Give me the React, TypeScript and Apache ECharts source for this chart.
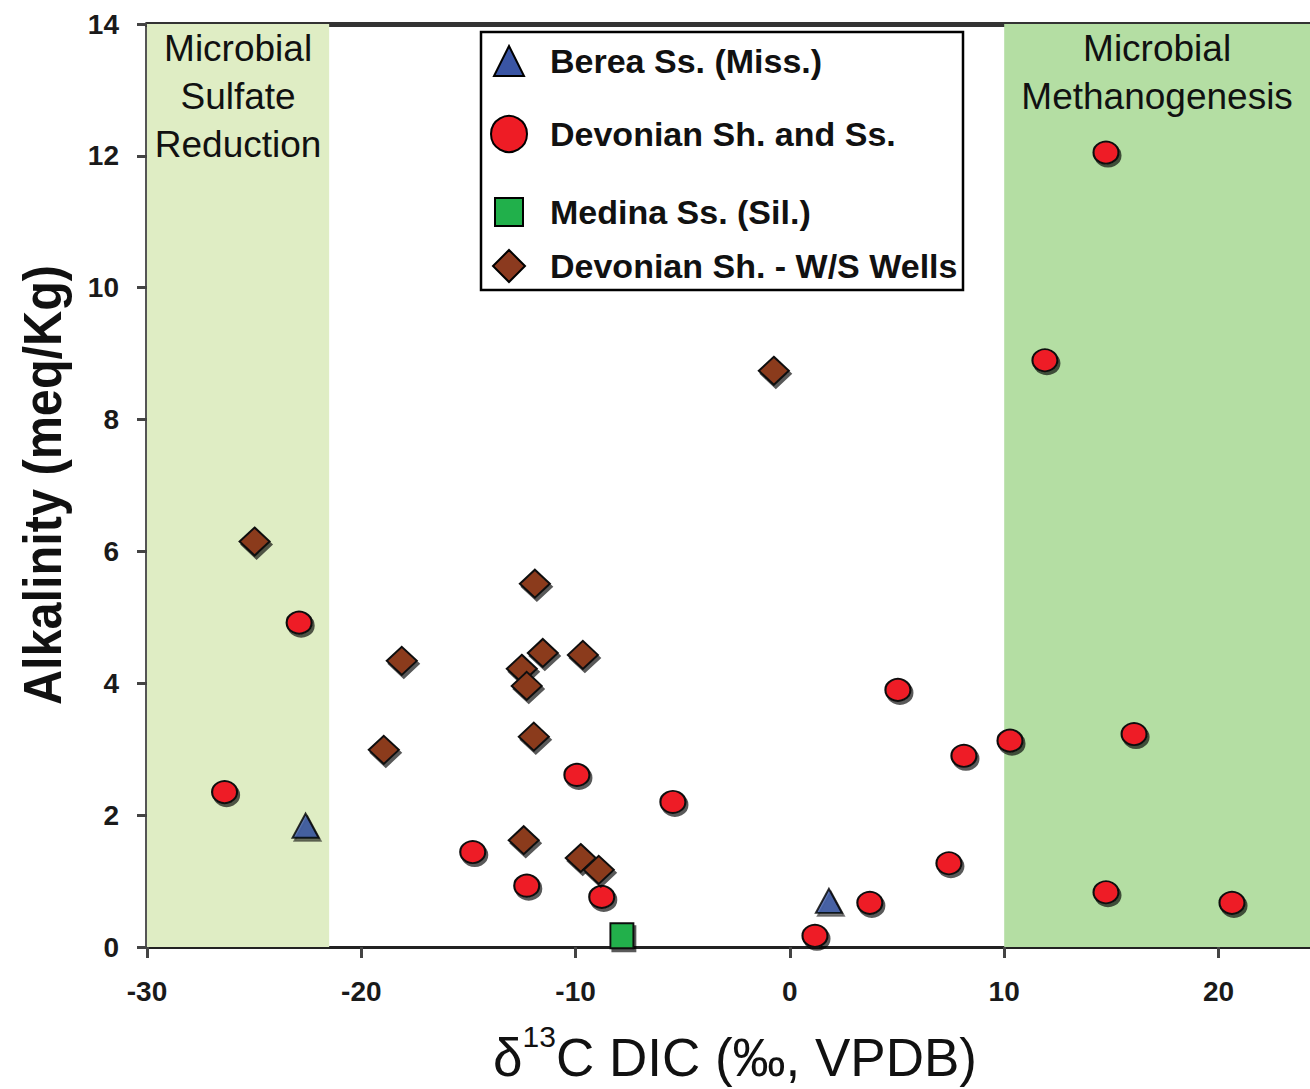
import React, { useEffect, useRef } from "react";
import * as echarts from "echarts";

// ---- data ----
const xTicks = [-30, -20, -10, 0, 10, 20];
const yTicks = [0, 2, 4, 6, 8, 10, 12, 14];
const xRange = [-30, 24.27];
const yRange = [0, 14];

const seriesNames = [
  "Berea Ss. (Miss.)",
  "Devonian Sh. and Ss.",
  "Medina Ss. (Sil.)",
  "Devonian Sh. - W/S Wells",
];

const berea: [number, number][] = [
  [-22.6, 1.84],
  [1.82, 0.7],
];

const devonianShSs: [number, number][] = [
  [14.75, 12.05],
  [11.9, 8.9],
  [-22.9, 4.92],
  [5.04, 3.9],
  [10.27, 3.13],
  [16.06, 3.23],
  [8.12, 2.9],
  [-26.38, 2.35],
  [-9.94, 2.61],
  [-5.46, 2.2],
  [-14.8, 1.44],
  [7.42, 1.27],
  [-12.28, 0.93],
  [-8.78, 0.76],
  [14.75, 0.83],
  [20.63, 0.67],
  [3.73, 0.67],
  [1.17, 0.17],
];

const medina: [number, number][] = [[-7.84, 0.17]];

const wsWells: [number, number][] = [
  [-0.75, 8.74],
  [-24.98, 6.15],
  [-11.9, 5.51],
  [-18.11, 4.34],
  [-11.53, 4.46],
  [-9.66, 4.43],
  [-12.51, 4.22],
  [-12.28, 3.96],
  [-11.95, 3.19],
  [-18.95, 2.99],
  [-12.42, 1.62],
  [-9.76, 1.35],
  [-8.92, 1.17],
];

const sulfateBand = [-30, -21.5];
const methanoBand = [10, 24.27];
const sulfateLabel = "Microbial\nSulfate\nReduction";
const methanoLabel = "Microbial\nMethanogenesis";

const FONT = "'Liberation Sans', Arial, sans-serif";

const shadow = {
  shadowColor: "rgba(0,0,0,0.65)",
  shadowOffsetX: 2,
  shadowOffsetY: 3,
  shadowBlur: 1,
};

const seriesColors = ["#3a55a4", "#ee1c25", "#21b04b", "#8b3a1f"];

export default function App() {
  const ref = useRef<HTMLDivElement>(null);

  useEffect(() => {
    if (!ref.current) return;
    const chart = echarts.init(ref.current, null, { renderer: "svg" });

    const legendCenters = [59, 133, 209, 265];
    const legendSizes = [30, 36, 28, 32];
    const legendIconX = 508;
    const legendTextX = 549;

    const option: any = {
      animation: false,
      backgroundColor: "#ffffff",
      grid: { left: 147, right: 0, top: 24, bottom: 142, containLabel: false },
      xAxis: [
        {
          type: "value",
          min: xRange[0],
          max: xRange[1],
          interval: 10,
          axisLine: { show: true, onZero: false, lineStyle: { color: "#222", width: 3 } },
          axisTick: {
            show: true,
            inside: false,
            length: 11,
            lineStyle: { color: "#444", width: 3 },
          },
          axisLabel: {
            show: true,
            margin: 30,
            showMaxLabel: false,
            color: "#1a1a1a",
            fontSize: 28,
            fontWeight: "bold",
            fontFamily: FONT,
            formatter: (v: number) => (xTicks.indexOf(v) >= 0 ? String(v) : ""),
          },
          splitLine: { show: false },
        },
        {
          type: "value",
          position: "top",
          min: xRange[0],
          max: xRange[1],
          interval: 10,
          axisLine: { show: true, onZero: false, lineStyle: { color: "#333", width: 5 } },
          axisTick: { show: false },
          axisLabel: { show: false },
          splitLine: { show: false },
        },
      ],
      yAxis: {
        type: "value",
        position: "left",
        min: yRange[0],
        max: yRange[1],
        interval: 2,
        axisLine: { show: true, onZero: false, lineStyle: { color: "#555", width: 4 } },
        axisTick: {
          show: true,
          inside: false,
          length: 10,
          lineStyle: { color: "#444", width: 3 },
        },
        axisLabel: {
          show: true,
          margin: 28,
          color: "#1a1a1a",
          fontSize: 28,
          fontWeight: "bold",
          fontFamily: FONT,
          formatter: (v: number) => (yTicks.indexOf(v) >= 0 ? String(v) : ""),
        },
        splitLine: { show: false },
      },
      legend: seriesNames.map((name, i) => ({
        data: [name],
        orient: "horizontal",
        left: legendIconX - legendSizes[i] / 2,
        top: legendCenters[i] - legendSizes[i] / 2,
        padding: 0,
        itemWidth: legendSizes[i],
        itemHeight: legendSizes[i],
        selectedMode: false,
        z: 6,
        itemStyle: {
          color: seriesColors[i],
          borderColor: "#000",
          borderWidth: 2,
          opacity: 1,
        },
        textStyle: {
          color: "#111",
          fontSize: 34,
          fontWeight: "bold",
          fontFamily: FONT,
          padding: [0, 0, 0, legendTextX - (legendIconX + legendSizes[i] / 2 + 5)],
        },
      })),
      graphic: [
        {
          type: "rect",
          z: 0,
          shape: { x: 481, y: 32, width: 482, height: 258 },
          style: { fill: "#fff", stroke: "#000", lineWidth: 2.5 },
        },
        {
          type: "text",
          x: 42,
          y: 485,
          rotation: Math.PI / 2,
          scaleX: 0.9,
          style: {
            text: "Alkalinity (meq/Kg)",
            fill: "#111",
            fontSize: 54,
            fontWeight: "bold",
            fontFamily: FONT,
            align: "center",
            verticalAlign: "middle",
          },
        },
        {
          type: "text",
          x: 735,
          y: 1057,
          style: {
            text: "{a|δ}{s|13}{a|C DIC (‰, VPDB)}",
            fill: "#111",
            align: "center",
            verticalAlign: "middle",
            rich: {
              a: { fontSize: 53, lineHeight: 72, fontFamily: FONT, fill: "#111" },
              s: {
                fontSize: 30,
                lineHeight: 30,
                verticalAlign: "top",
                fontFamily: FONT,
                fill: "#111",
              },
            },
          },
        },
      ],
      series: [
        {
          name: seriesNames[0],
          type: "scatter",
          symbol: "triangle",
          symbolSize: [26, 24],
          data: berea,
          z: 5,
          itemStyle: { color: seriesColors[0], borderColor: "#000", borderWidth: 2, ...shadow },
          markArea: {
            silent: true,
            z: 1,
            label: {
              show: true,
              position: "insideTop",
              distance: 0,
              color: "#111",
              fontSize: 37,
              lineHeight: 48,
              fontFamily: FONT,
              align: "center",
            },
            data: [
              [
                {
                  name: sulfateLabel,
                  xAxis: sulfateBand[0],
                  yAxis: yRange[0],
                  itemStyle: { color: "#dfedc4", opacity: 1 },
                },
                { xAxis: sulfateBand[1], yAxis: yRange[1] },
              ],
              [
                {
                  name: methanoLabel,
                  xAxis: methanoBand[0],
                  yAxis: yRange[0],
                  itemStyle: { color: "#b4dea3", opacity: 1 },
                },
                { xAxis: methanoBand[1], yAxis: yRange[1] },
              ],
            ],
          },
        },
        {
          name: seriesNames[1],
          type: "scatter",
          symbol: "circle",
          symbolSize: [25, 22],
          data: devonianShSs,
          z: 5,
          itemStyle: { color: seriesColors[1], borderColor: "#111", borderWidth: 2, opacity: 1, ...shadow },
        },
        {
          name: seriesNames[2],
          type: "scatter",
          symbol: "rect",
          symbolSize: [23, 25],
          data: medina,
          z: 5,
          itemStyle: { color: seriesColors[2], borderColor: "#111", borderWidth: 2, opacity: 1, ...shadow },
        },
        {
          name: seriesNames[3],
          type: "scatter",
          symbol: "diamond",
          symbolSize: [30, 28],
          data: wsWells,
          z: 5,
          itemStyle: { color: seriesColors[3], borderColor: "#111", borderWidth: 2, opacity: 1, ...shadow },
        },
      ],
    };

    chart.setOption(option);
    return () => chart.dispose();
  }, []);

  return (
    <div
      ref={ref}
      style={{ position: "fixed", left: 0, top: 0, width: 1310, height: 1089 }}
    />
  );
}
